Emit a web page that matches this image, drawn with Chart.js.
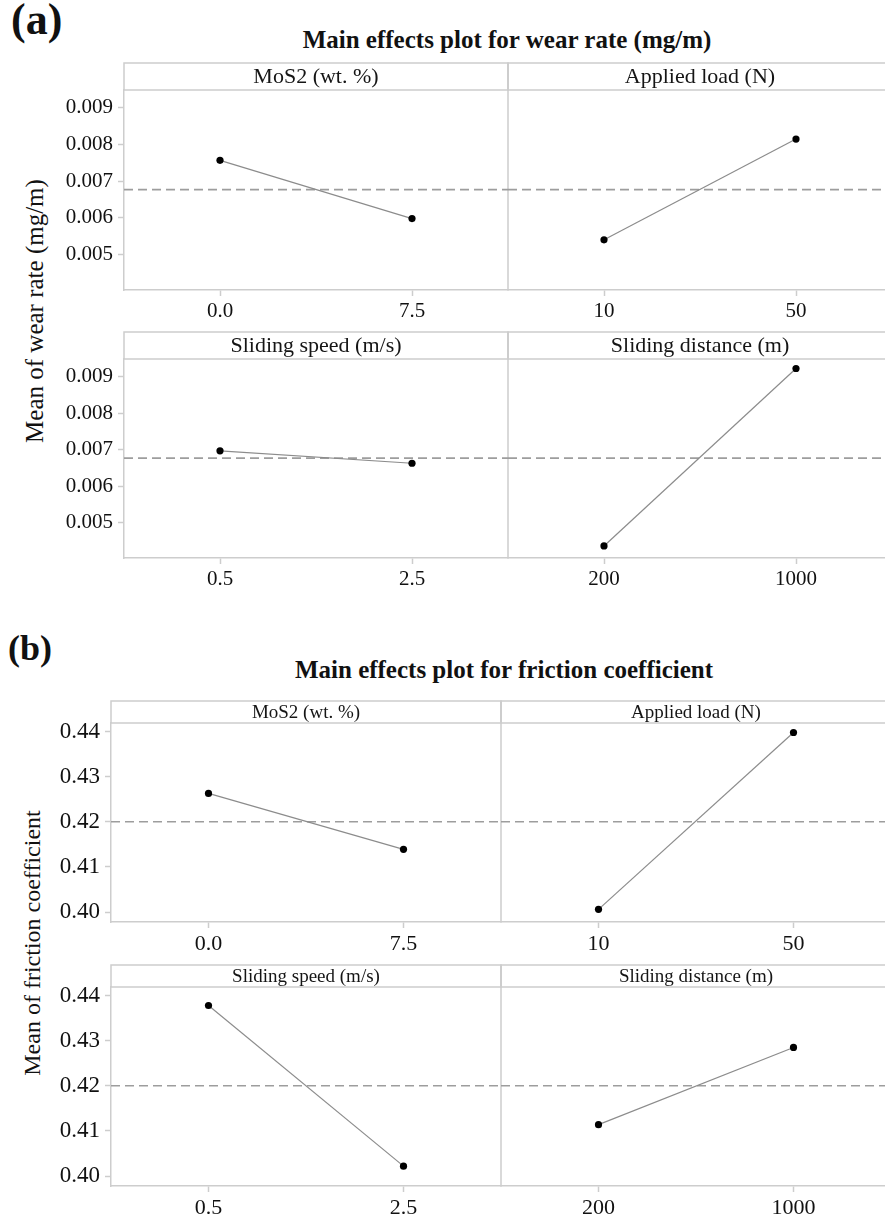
<!DOCTYPE html>
<html><head><meta charset="utf-8">
<script src="https://cdn.jsdelivr.net/npm/chart.js@4/dist/chart.umd.min.js"></script>
<style>
html,body{margin:0;padding:0;background:#fff;}
#wrap{position:relative;width:885px;height:1220px;overflow:hidden;font-family:"Liberation Serif",serif;color:#111;}
canvas{position:absolute;left:0;}
.lbl{position:absolute;white-space:nowrap;}
.ttl{position:absolute;white-space:nowrap;transform:translateX(-50%);font-weight:bold;font-size:25px;line-height:25px;}
.ytitle{position:absolute;white-space:nowrap;transform:translate(-50%,-50%) rotate(-90deg);}
</style></head><body>
<div id="wrap">
  <div class="lbl" style="left:11px;top:-2px;font:bold 44px/44px 'Liberation Serif';">(a)</div>
  <div class="ttl" style="left:507px;top:27px;">Main effects plot for wear rate (mg/m)</div>
  <div class="ytitle" style="left:34px;top:311px;font-size:25px;line-height:25px;">Mean of wear rate (mg/m)</div>
  <canvas id="a1" width="900" height="270" style="top:60px;width:900px;height:270px;"></canvas>
  <canvas id="a2" width="900" height="270" style="top:330px;width:900px;height:270px;"></canvas>

  <div class="lbl" style="left:8px;top:630px;font:bold 36px/36px 'Liberation Serif';">(b)</div>
  <div class="ttl" style="left:504px;top:657px;">Main effects plot for friction coefficient</div>
  <div class="ytitle" style="left:32px;top:943px;font-size:24px;line-height:24px;">Mean of friction coefficient</div>
  <canvas id="b1" width="900" height="270" style="top:690px;width:900px;height:270px;"></canvas>
  <canvas id="b2" width="900" height="260" style="top:960px;width:900px;height:260px;"></canvas>
</div>
<script>
// ---------- data ----------
const factorNames = ['MoS2 (wt. %)', 'Applied load (N)', 'Sliding speed (m/s)', 'Sliding distance (m)'];
const levelsMoS2 = ['0.0', '7.5'];
const levelsLoad = ['10', '50'];
const levelsSpeed = ['0.5', '2.5'];
const levelsDistance = ['200', '1000'];

const wearMoS2 = [0.00757, 0.00598];
const wearLoad = [0.00540, 0.00815];
const wearSpeed = [0.00697, 0.00663];
const wearDistance = [0.00436, 0.00923];
const wearMean = 0.00677;
const wearTicks = [0.005, 0.006, 0.007, 0.008, 0.009];

const fricMoS2 = [0.4263, 0.4139];
const fricLoad = [0.4006, 0.4398];
const fricSpeed = [0.4378, 0.4022];
const fricDistance = [0.4114, 0.4285];
const fricMean = 0.4200;
const fricTicks = [0.40, 0.41, 0.42, 0.43, 0.44];

// ---------- drawing ----------
const FONT = '"Liberation Serif"';
const FRAME = '#cdcdcd';

const panelFrame = {
  id: 'panelFrame',
  beforeDatasetsDraw(chart, args, opts) {
    const {ctx, chartArea} = chart;
    const top = chartArea.top - opts.hh;
    ctx.save();
    ctx.strokeStyle = FRAME;
    ctx.lineWidth = 1.5;
    opts.names.forEach((name, i) => {
      const sc = chart.scales['x' + i];
      ctx.strokeRect(sc.left, top, sc.right - sc.left, opts.hh);
      ctx.fillStyle = '#151515';
      ctx.font = opts.hs + 'px ' + FONT;
      ctx.textAlign = 'center';
      ctx.textBaseline = 'middle';
      ctx.fillText(name, (sc.left + sc.right) / 2, top + opts.hh / 2 + 1);
    });
    const s1 = chart.scales.x1;
    ctx.beginPath();
    ctx.moveTo(s1.left, top);
    ctx.lineTo(s1.left, chartArea.bottom);
    ctx.stroke();
    ctx.restore();
  }
};

function makeRow(id, cfg) {
  const datasets = [];
  cfg.panels.forEach((p, i) => {
    const xid = 'x' + i;
    datasets.push({
      xAxisID: xid, yAxisID: 'y',
      data: p.values.map((v, j) => ({x: j, y: v})),
      borderColor: '#8c8c8c', borderWidth: 1.2,
      pointRadius: 3.6, pointBackgroundColor: '#000', pointBorderColor: '#000', pointBorderWidth: 0,
      tension: 0, order: 1
    });
    datasets.push({
      xAxisID: xid, yAxisID: 'y',
      data: [{x: -0.5, y: cfg.mean}, {x: 1.5, y: cfg.mean}],
      borderColor: '#9d9d9d', borderWidth: 1.6, borderDash: [9, 5],
      pointRadius: 0, order: 2
    });
  });
  const scales = {
    y: {
      type: 'linear', position: 'left', min: cfg.yMin, max: cfg.yMax,
      afterFit: s => { s.width = cfg.left; },
      afterBuildTicks: s => { s.ticks = cfg.yTicks.map(v => ({value: v})); },
      ticks: {
        callback: v => Number(v).toFixed(cfg.dec),
        font: {family: FONT, size: cfg.ts}, color: '#111', padding: 5
      },
      grid: {drawOnChartArea: false, drawTicks: true, tickLength: 6, color: FRAME, tickWidth: 1.5},
      border: {display: true, color: FRAME, width: 1.5}
    }
  };
  cfg.panels.forEach((p, i) => {
    scales['x' + i] = {
      type: 'linear', position: 'bottom', stack: 'row', stackWeight: 1,
      min: -0.5, max: 1.5,
      afterFit: s => { s.height = cfg.xh; },
      afterBuildTicks: s => { s.ticks = p.levels.map((l, j) => ({value: j})); },
      ticks: {
        callback: v => p.levels[v], autoSkip: false, maxRotation: 0,
        font: {family: FONT, size: cfg.xs}, color: '#111', padding: 3
      },
      grid: {drawOnChartArea: false, drawTicks: true, tickLength: 6, color: FRAME, tickWidth: 1.5},
      border: {display: true, color: FRAME, width: 1.5}
    };
  });
  return new Chart(document.getElementById(id), {
    type: 'line',
    data: {datasets},
    options: {
      responsive: false, animation: false, events: [],
      layout: {padding: {top: cfg.padTop, left: 0, right: cfg.padRight, bottom: 0}},
      scales,
      plugins: {
        legend: {display: false}, tooltip: {enabled: false},
        panelFrame: {names: cfg.panels.map(p => p.name), hh: cfg.hh, hs: cfg.hs}
      }
    },
    plugins: [panelFrame]
  });
}

const wearCommon = {yMin: 0.00403, yMax: 0.00949, yTicks: wearTicks, dec: 3, mean: wearMean,
  left: 124, padRight: 8, ts: 21, xs: 21, hh: 27, hs: 22};
const fricCommon = {yMin: 0.3978, yMax: 0.4419, yTicks: fricTicks, dec: 2, mean: fricMean,
  left: 111, padRight: 9, ts: 23, xs: 22, hh: 22, hs: 19};

function drawAll() {
  makeRow('a1', Object.assign({}, wearCommon, {padTop: 30, xh: 40, panels: [
    {name: factorNames[0], levels: levelsMoS2, values: wearMoS2},
    {name: factorNames[1], levels: levelsLoad, values: wearLoad}]}));
  makeRow('a2', Object.assign({}, wearCommon, {padTop: 29, xh: 42, panels: [
    {name: factorNames[2], levels: levelsSpeed, values: wearSpeed},
    {name: factorNames[3], levels: levelsDistance, values: wearDistance}]}));
  makeRow('b1', Object.assign({}, fricCommon, {padTop: 33, xh: 38, panels: [
    {name: factorNames[0], levels: levelsMoS2, values: fricMoS2},
    {name: factorNames[1], levels: levelsLoad, values: fricLoad}]}));
  makeRow('b2', Object.assign({}, fricCommon, {padTop: 27, xh: 34, panels: [
    {name: factorNames[2], levels: levelsSpeed, values: fricSpeed},
    {name: factorNames[3], levels: levelsDistance, values: fricDistance}]}));
}

if (document.fonts && document.fonts.load) {
  Promise.all([
    document.fonts.load('21px "Liberation Serif"'),
    document.fonts.load('bold 21px "Liberation Serif"')
  ]).then(drawAll, drawAll);
} else {
  drawAll();
}
</script>
</body></html>
